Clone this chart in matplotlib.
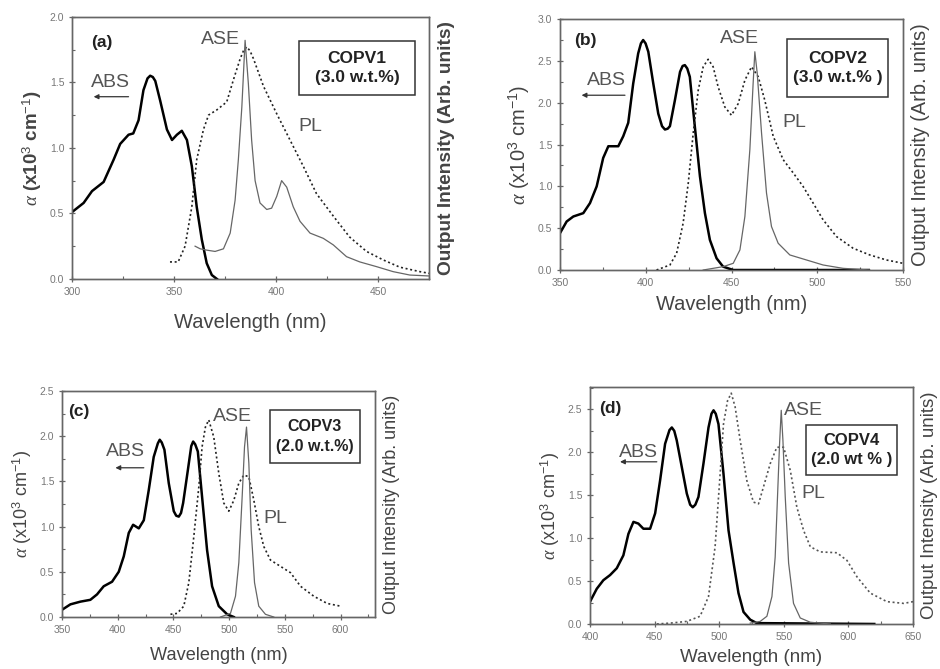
import matplotlib
matplotlib.use('Agg')
import matplotlib.pyplot as plt
from matplotlib.patches import Rectangle
from matplotlib.ticker import MultipleLocator

plt.rcParams['font.family'] = ['Liberation Sans', 'DejaVu Sans']
plt.rcParams['mathtext.fontset'] = 'custom'
plt.rcParams['mathtext.rm'] = 'Liberation Sans'
plt.rcParams['mathtext.it'] = 'Liberation Serif:italic'

# ---- (a) COPV1 ----
abs_a_x = [300, 305.7, 309.8, 315.5, 320.4, 323.6, 327.7, 330, 332.6, 335, 337, 338.3, 339.6, 340.8,
           343.2, 346.5, 349, 351.4, 353.8, 356.3, 358.7, 361.1, 363.6, 366, 368.5, 371]
abs_a_y = [0.51, 0.58, 0.67, 0.74, 0.91, 1.03, 1.10, 1.11, 1.21, 1.44, 1.53, 1.55, 1.54, 1.51,
           1.36, 1.14, 1.06, 1.10, 1.13, 1.06, 0.86, 0.55, 0.30, 0.12, 0.03, 0.0]
pl_a_x = [348, 352, 355.4, 358.7, 361.1, 364.4, 366.9, 371, 375.8, 379.1, 382.4, 384, 385.6, 387.2,
          388.9, 393.8, 400.3, 406.8, 413.3, 419.8, 428, 436, 444.3, 452.5, 460.6, 470.4, 475]
pl_a_y = [0.13, 0.13, 0.25, 0.55, 0.91, 1.14, 1.25, 1.29, 1.35, 1.52, 1.68, 1.74, 1.77, 1.74,
          1.68, 1.47, 1.26, 1.06, 0.86, 0.65, 0.48, 0.32, 0.21, 0.145, 0.09, 0.056, 0.043]
ase_a_x = [360.3, 362.8, 366, 370.1, 374.2, 377.5, 379.9, 381.5, 383.2, 384.8, 386.4, 388, 389.7,
           392.1, 395.4, 397.8, 400.3, 402.7, 405.2, 408.4, 411.7, 416.6, 423.1, 428, 434.5,
           441, 449.2, 457.3, 465.5, 474.8]
ase_a_y = [0.25, 0.23, 0.22, 0.21, 0.23, 0.35, 0.60, 0.91, 1.31, 1.82, 1.49, 1.06, 0.75,
           0.58, 0.53, 0.54, 0.63, 0.75, 0.70, 0.55, 0.44, 0.35, 0.31, 0.26, 0.17,
           0.13, 0.094, 0.056, 0.03, 0.023]

# ---- (b) COPV2 ----
abs_b_x = [350, 353.9, 357.8, 363.6, 367.5, 371.4, 375.2, 378.2, 381.1, 384, 386.9, 389.8, 392.7,
           395.6, 397.2, 398.5, 399.9, 401.5, 404.4, 407.3, 409.5, 411.2, 412.8, 414.1, 417, 420,
           421.5, 422.8, 424.2, 425.7, 428.6, 431.6, 434.5, 437.4, 441.3, 445.1, 451, 530]
abs_b_y = [0.44, 0.58, 0.64, 0.68, 0.80, 1.0, 1.34, 1.48, 1.48, 1.48, 1.60, 1.76, 2.23,
           2.59, 2.71, 2.75, 2.71, 2.61, 2.23, 1.87, 1.72, 1.68, 1.69, 1.72, 2.03, 2.37,
           2.44, 2.45, 2.41, 2.31, 1.72, 1.12, 0.68, 0.36, 0.14, 0.04, 0.0, 0.0]
pl_b_x = [406.3, 414.1, 418, 421.8, 424.8, 427.7, 430.6, 433.5, 436.4, 439.3, 442.2, 446.1, 450,
          453.9, 457.8, 461.7, 465.6, 469.4, 474.3, 480.1, 486, 491.7, 497.6, 503.4, 511.2,
          520.9, 530.6, 540.3, 550]
pl_b_y = [0.0, 0.06, 0.2, 0.56, 1.04, 1.64, 2.15, 2.43, 2.52, 2.43, 2.19, 1.95, 1.85,
          1.99, 2.27, 2.43, 2.31, 2.03, 1.60, 1.32, 1.16, 1.0, 0.80, 0.60, 0.40,
          0.26, 0.18, 0.12, 0.08]
ase_b_x = [433.5, 445.1, 451, 454.9, 457.8, 460.7, 462.6, 463.6, 465, 467.5, 470.4, 473.3, 477.2,
           484, 493.7, 503.4, 515, 530.6]
ase_b_y = [0.0, 0.04, 0.08, 0.24, 0.64, 1.44, 2.23, 2.61, 2.35, 1.64, 0.92, 0.52, 0.32,
           0.18, 0.12, 0.06, 0.02, 0.0]

# ---- (c) COPV3 ----
abs_c_x = [350, 357.5, 366.5, 375.4, 381.4, 387.4, 394.9, 400.9, 405.4, 409.9, 413.8, 418.9, 423.4,
           427.8, 432.3, 436, 437.7, 439.5, 441.9, 445.8, 450.3, 452.5, 454.8, 456.8, 458.7, 462.9,
           466, 467.7, 469.5, 471.9, 475.7, 480.2, 484.7, 490.7, 498.2, 504.2]
abs_c_y = [0.08, 0.14, 0.17, 0.19, 0.25, 0.34, 0.39, 0.50, 0.67, 0.93, 1.02, 0.98, 1.07,
           1.40, 1.77, 1.92, 1.96, 1.93, 1.85, 1.48, 1.17, 1.12, 1.11, 1.15, 1.26, 1.62,
           1.89, 1.94, 1.91, 1.83, 1.33, 0.74, 0.34, 0.12, 0.03, 0.0]
pl_c_x = [447.3, 453.3, 459.3, 463.8, 468.3, 472.8, 475.7, 478.7, 481.7, 486.2, 490.7, 495.2, 499.7,
          504.2, 508.7, 513.2, 517.7, 522.2, 526.6, 531.1, 537.1, 546.1, 555.1, 564.1, 576,
          588, 600]
pl_c_y = [0.03, 0.04, 0.12, 0.38, 0.89, 1.44, 1.88, 2.10, 2.18, 1.99, 1.59, 1.26, 1.17,
          1.29, 1.48, 1.57, 1.55, 1.29, 1.0, 0.78, 0.63, 0.56, 0.49, 0.34, 0.23,
          0.15, 0.12]
ase_c_x = [492.2, 501.2, 505.7, 508.7, 511.7, 513.8, 515.6, 517.7, 519.8, 522.8, 526.6, 532.6, 540.1]
ase_c_y = [0.0, 0.04, 0.23, 0.60, 1.33, 1.88, 2.10, 1.70, 0.96, 0.38, 0.12, 0.03, 0.0]

# ---- (d) COPV4 ----
abs_d_x = [400, 405.2, 410.3, 415.5, 420.7, 425.8, 429.7, 433.6, 437.4, 441.3, 446.5, 450.4, 454.2,
           458.1, 461.5, 463.3, 465.2, 467.1, 471, 474.9, 477.5, 479.5, 481.5, 483.9, 487.8, 491.7,
           494, 495.6, 497.3, 499.4, 503.3, 507.2, 511.1, 514.9, 518.8, 524, 529.1, 620]
abs_d_y = [0.26, 0.41, 0.51, 0.57, 0.65, 0.80, 1.05, 1.19, 1.17, 1.11, 1.11, 1.29, 1.67,
           2.10, 2.26, 2.29, 2.25, 2.14, 1.83, 1.52, 1.39, 1.36, 1.39, 1.48, 1.87, 2.29,
           2.45, 2.49, 2.45, 2.33, 1.75, 1.09, 0.71, 0.36, 0.14, 0.05, 0.01, 0.0]
pl_d_x = [451.7, 462, 474.9, 485.2, 491.7, 496.8, 500.7, 503.3, 506.4, 509.3, 512.3, 516.2, 521.4,
          526.5, 530.4, 534.3, 539.5, 544.6, 549.8, 555, 560.1, 565.3, 570.5, 578.2, 591.1,
          598.9, 606.6, 616.9, 629.8, 642.8, 650]
pl_d_y = [0.0, 0.01, 0.03, 0.09, 0.32, 0.90, 1.75, 2.33, 2.60, 2.69, 2.53, 2.14, 1.67,
          1.42, 1.40, 1.60, 1.87, 2.06, 2.06, 1.79, 1.36, 1.09, 0.90, 0.84, 0.83,
          0.74, 0.55, 0.36, 0.26, 0.24, 0.26]
ase_d_x = [524, 531.7, 536.9, 540.8, 543.3, 545.1, 546.7, 548, 549.3, 551.1, 553.7, 557.5, 562.7,
           570.5, 586]
ase_d_y = [0.01, 0.03, 0.09, 0.32, 0.78, 1.48, 2.10, 2.49, 2.14, 1.48, 0.71, 0.24, 0.07,
           0.02, 0.0]

panels = [
    dict(rect=[0.0766, 0.583, 0.380, 0.392], xlim=(300, 475), ylim=(0, 2.0),
         abs=(abs_a_x, abs_a_y), pl=(pl_a_x, pl_a_y), ase=(ase_a_x, ase_a_y), pl_col='#222222',
         tag='(a)', tag_xy=(314.7, 1.80), ase_xy=(372.6, 1.83), abs_xy=(318.8, 1.50),
         arrow=((327.7, 1.39), (310.6, 1.39)), pl_xy=(416.6, 1.16),
         box='COPV1\n(3.0 w.t.%)', box_ext=(411.4, 467.9, 1.403, 1.817), bold=True,
         fs=14.5, rfs=13.8, lfs=13.5, bfs=12.5, xpad=12),
    dict(rect=[0.5957, 0.5964, 0.365, 0.375], xlim=(350, 550), ylim=(0, 3.0),
         abs=(abs_b_x, abs_b_y), pl=(pl_b_x, pl_b_y), ase=(ase_b_x, ase_b_y), pl_col='#222222',
         tag='(b)', tag_xy=(365, 2.75), ase_xy=(454.9, 2.77), abs_xy=(377.2, 2.27),
         arrow=((387.9, 2.09), (362.6, 2.09)), pl_xy=(486.9, 1.76),
         box='COPV2\n(3.0 w.t.% )', box_ext=(482.4, 541.3, 2.074, 2.76), bold=False,
         fs=14.4, rfs=14.4, lfs=14.5, bfs=12.5, xpad=5.5),
    dict(rect=[0.066, 0.0777, 0.333, 0.338], xlim=(350, 631), ylim=(0, 2.5),
         abs=(abs_c_x, abs_c_y), pl=(pl_c_x, pl_c_y), ase=(ase_c_x, ase_c_y), pl_col='#222222',
         tag='(c)', tag_xy=(365, 2.27), ase_xy=(502.7, 2.22), abs_xy=(406.9, 1.83),
         arrow=((423.4, 1.65), (397.9, 1.65)), pl_xy=(541.6, 1.09),
         box='COPV3\n(2.0 w.t.%)', box_ext=(536.5, 617.4, 1.706, 2.287), bold=False,
         fs=13.1, rfs=13.0, lfs=13.0, bfs=11.5, xpad=9),
    dict(rect=[0.6277, 0.0673, 0.3436, 0.354], xlim=(400, 650), ylim=(0, 2.76),
         abs=(abs_d_x, abs_d_y), pl=(pl_d_x, pl_d_y), ase=(ase_d_x, ase_d_y), pl_col='#555555',
         tag='(d)', tag_xy=(415.5, 2.51), ase_xy=(565.3, 2.49), abs_xy=(437.4, 2.0),
         arrow=((451.7, 1.89), (423.2, 1.89)), pl_xy=(573, 1.52),
         box='COPV4\n(2.0 wt % )', box_ext=(567.4, 637.6, 1.733, 2.314), bold=False,
         fs=13.5, rfs=13.5, lfs=13.0, bfs=12.0, xpad=5),
]

fig = plt.figure(figsize=(9.4, 6.69), dpi=100)
grey = '#555555'
spine_col = '#666666'

for p in panels:
    ax = fig.add_axes(p['rect'])
    ax2 = ax.twinx()
    ax.plot(*p['abs'], color='black', lw=1.8, zorder=3)
    ax2.plot(*p['pl'], color=p['pl_col'], lw=1.2, ls=(0, (1.2, 1.6)))
    ax2.plot(*p['ase'], color='#666666', lw=0.9)

    ax.set_xlim(*p['xlim'])
    ax.set_ylim(*p['ylim'])
    ax2.set_ylim(*p['ylim'])
    ax.xaxis.set_major_locator(MultipleLocator(50))
    ax.xaxis.set_minor_locator(MultipleLocator(25))
    ax.yaxis.set_major_locator(MultipleLocator(0.5))
    ax.yaxis.set_minor_locator(MultipleLocator(0.25))
    ax.yaxis.set_major_formatter(plt.FormatStrFormatter('%.1f'))
    ax.tick_params(which='major', direction='inout', length=5, width=0.9, color=spine_col,
                   labelsize=7.5, labelcolor='#777777', pad=3)
    ax.tick_params(which='minor', direction='in', length=2.5, width=0.8, color=spine_col)
    ax2.set_yticks([])
    for a in (ax, ax2):
        for s in a.spines.values():
            s.set_color(spine_col)
            s.set_linewidth(1.0)

    weight = 'bold' if p['bold'] else 'normal'
    ax.set_xlabel('Wavelength (nm)', fontsize=p['fs'], color='#444444', labelpad=p['xpad'])
    ax.set_ylabel(r'$\alpha$ (x10$^3$ cm$^{-1}$)', fontsize=p['lfs'], color='#444444',
                  labelpad=4, fontweight=weight)
    ax2.set_ylabel('Output Intensity (Arb. units)', fontsize=p['rfs'], color='#444444',
                   labelpad=6, fontweight=weight)

    ax.text(*p['tag_xy'], p['tag'], fontsize=12.5, fontweight='bold', color='#222222',
            ha='center', va='center')
    ax.text(*p['ase_xy'], 'ASE', fontsize=14, color=grey, ha='center', va='center')
    ax.text(*p['abs_xy'], 'ABS', fontsize=14, color=grey, ha='center', va='center')
    ax.text(*p['pl_xy'], 'PL', fontsize=14, color=grey, ha='center', va='center')
    ax.annotate('', xy=p['arrow'][1], xytext=p['arrow'][0],
                arrowprops=dict(arrowstyle='-|>', color='#333333', lw=0.9,
                                mutation_scale=7, shrinkA=0, shrinkB=0))
    x0, x1, y0, y1 = p['box_ext']
    ax.add_patch(Rectangle((x0, y0), x1 - x0, y1 - y0, fc='white', ec='#333333',
                           lw=1.1, zorder=5))
    ax.text((x0 + x1) / 2, (y0 + y1) / 2, p['box'], fontsize=p['bfs'], fontweight='bold',
            color='#222222', ha='center', va='center', linespacing=1.35, zorder=6)

plt.savefig('out.png', dpi=100)
